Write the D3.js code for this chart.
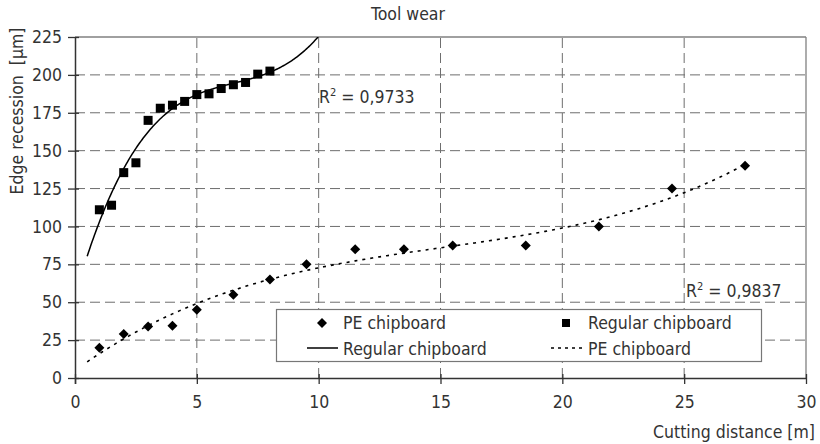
<!DOCTYPE html>
<html><head><meta charset="utf-8">
<script src="https://cdn.jsdelivr.net/npm/d3@7"></script>
<style>
body{margin:0;background:#fff;}
text{font-family:"DejaVu Sans Condensed","DejaVu Sans",sans-serif;fill:#333;}
</style></head>
<body><svg id="c" width="820" height="444"></svg>
<script>
const regularX = [1,1.5,2,2.5,3,3.5,4,4.5,5,5.5,6,6.5,7,7.5,8];
const regularY = [111,114,135.5,142,170,178,180,182.5,187,187.5,191,193.5,195,200.5,202.5];
const peX = [1,2,3,4,5,6.5,8,9.5,11.5,13.5,15.5,18.5,21.5,24.5,27.5];
const peY = [20,29,34,34.5,45,55,65,75,85,85,87.5,87.5,100,125,140];
const xTicks = [0,5,10,15,20,25,30];
const yTicks = [0,25,50,75,100,125,150,175,200,225];
const r2Labels = ["0,9733","0,9837"];

const FS = "17.5px";
const svg = d3.select("#c");
const x = d3.scaleLinear().domain([0,30]).range([75,806]);
const y = d3.scaleLinear().domain([0,225]).range([378,37]);

// cubic least squares fit (Excel-style polynomial trendline)
function polyfit(xs, ys, deg){
  const n = deg+1;
  const A = Array.from({length:n},()=>new Array(n+1).fill(0));
  for(let k=0;k<xs.length;k++){
    for(let i=0;i<n;i++){
      for(let j=0;j<n;j++) A[i][j]+=Math.pow(xs[k],i+j);
      A[i][n]+=ys[k]*Math.pow(xs[k],i);
    }
  }
  for(let i=0;i<n;i++){
    let p=i; for(let r=i+1;r<n;r++) if(Math.abs(A[r][i])>Math.abs(A[p][i])) p=r;
    [A[i],A[p]]=[A[p],A[i]];
    for(let r=0;r<n;r++){ if(r===i) continue; const f=A[r][i]/A[i][i]; for(let c=i;c<=n;c++) A[r][c]-=f*A[i][c]; }
  }
  return A.map((row,i)=>row[n]/row[i]);
}
const evalP=(c,t)=>c.reduce((s,a,i)=>s+a*Math.pow(t,i),0);

// grid
const g = svg.append("g");
g.selectAll(".hg").data(yTicks.filter(d=>d>0&&d<225)).join("line")
 .attr("x1",x(0)).attr("x2",x(30)).attr("y1",d=>y(d)).attr("y2",d=>y(d))
 .attr("stroke","#6e6e6e").attr("stroke-width",1).attr("stroke-dasharray","10,5");
g.selectAll(".vg").data(xTicks.filter(d=>d>0&&d<30)).join("line")
 .attr("y1",y(0)).attr("y2",y(225)).attr("x1",d=>x(d)).attr("x2",d=>x(d))
 .attr("stroke","#6e6e6e").attr("stroke-width",1).attr("stroke-dasharray","10,5");
// frame top/right
svg.append("line").attr("x1",x(0)).attr("x2",x(30)).attr("y1",y(225)).attr("y2",y(225)).attr("stroke","#808080").attr("stroke-width",1.3);
svg.append("line").attr("x1",x(30)).attr("x2",x(30)).attr("y1",y(225)).attr("y2",y(0)).attr("stroke","#808080").attr("stroke-width",1.3);

// clip
svg.append("clipPath").attr("id","clip").append("rect")
 .attr("x",x(0)).attr("y",y(225)).attr("width",x(30)-x(0)).attr("height",y(0)-y(225));

// trend lines
const cR = polyfit(regularX, regularY, 3);
const cP = polyfit(peX, peY, 3);
const line = d3.line().x(d=>x(d[0])).y(d=>y(d[1]));
const tR = d3.range(0.5, 11.01, 0.05).map(t=>[t,evalP(cR,t)]);
const tP = d3.range(0.5, 27.51, 0.1).map(t=>[t,evalP(cP,t)]);
svg.append("path").attr("clip-path","url(#clip)").attr("d",line(tR)).attr("fill","none").attr("stroke","#000").attr("stroke-width",1.5);
svg.append("path").attr("clip-path","url(#clip)").attr("d",line(tP)).attr("fill","none").attr("stroke","#000").attr("stroke-width",1.6).attr("stroke-dasharray","3,5");

// axes
const ya = svg.append("g").attr("transform",`translate(${x(0)},0)`)
 .call(d3.axisLeft(y).tickValues(yTicks).tickSizeInner(7).tickSizeOuter(0).tickPadding(6));
const xa = svg.append("g").attr("transform",`translate(0,${y(0)})`)
 .call(d3.axisBottom(x).tickValues(xTicks).tickSizeInner(6).tickSizeOuter(0).tickPadding(12));
[ya,xa].forEach(a=>{
  a.select(".domain").attr("stroke","#333").attr("stroke-width",1.5);
  a.selectAll(".tick line").attr("stroke","#333").attr("stroke-width",1.3);
  a.selectAll(".tick text").style("font-size",FS).attr("fill","#333").style("font-family",'"DejaVu Sans Condensed","DejaVu Sans",sans-serif');
});
ya.selectAll(".tick line").attr("x2",-7).attr("x1",4);
xa.selectAll(".tick line").attr("y1",-4).attr("y2",6);
ya.select(".domain").attr("d",`M0.5,${y(0)+6}V${y(225)}`);

// markers
svg.selectAll(".sq").data(regularX.map((d,i)=>[d,regularY[i]])).join("rect")
 .attr("x",d=>x(d[0])-4.5).attr("y",d=>y(d[1])-4.5).attr("width",9).attr("height",9).attr("fill","#000");
const diamond = d3.symbol().type(d3.symbolDiamond2).size(64);
svg.selectAll(".dm").data(peX.map((d,i)=>[d,peY[i]])).join("path")
 .attr("transform",d=>`translate(${x(d[0])},${y(d[1])})`).attr("d",diamond).attr("fill","#000");

// R² labels
function r2(tx,ty,val){
  const t=svg.append("text").attr("x",tx).attr("y",ty).style("font-size",FS);
  t.append("tspan").text("R");
  t.append("tspan").attr("dy",-7).style("font-size","11px").text("2");
  t.append("tspan").attr("dy",7).text(" = "+val);
}
r2(319,103,r2Labels[0]);
r2(686,297,r2Labels[1]);

// title and axis labels
svg.append("text").attr("x",408).attr("y",20).attr("text-anchor","middle").style("font-size",FS).text("Tool wear");
svg.append("text").attr("x",815).attr("y",438).attr("text-anchor","end").style("font-size",FS).text("Cutting distance [m]");
svg.append("text").attr("transform","translate(23,111) rotate(-90)").attr("text-anchor","middle").style("font-size",FS).text("Edge recession\u00a0 [µm]");

// legend
const lg = svg.append("g");
lg.append("rect").attr("x",276.5).attr("y",309.5).attr("width",485).attr("height",52).attr("fill","#fff").attr("stroke","#777").attr("stroke-width",1.2);
lg.append("path").attr("transform","translate(322,323)").attr("d",diamond).attr("fill","#000");
lg.append("text").attr("x",343).attr("y",329).style("font-size",FS).text("PE chipboard");
lg.append("line").attr("x1",307).attr("x2",338).attr("y1",348).attr("y2",348).attr("stroke","#000").attr("stroke-width",1.5);
lg.append("text").attr("x",343).attr("y",355).style("font-size",FS).text("Regular chipboard");
lg.append("rect").attr("x",562).attr("y",319).attr("width",8).attr("height",8).attr("fill","#000");
lg.append("text").attr("x",588).attr("y",329).style("font-size",FS).text("Regular chipboard");
lg.append("line").attr("x1",551).attr("x2",584).attr("y1",348).attr("y2",348).attr("stroke","#000").attr("stroke-width",1.6).attr("stroke-dasharray","3,4");
lg.append("text").attr("x",588).attr("y",355).style("font-size",FS).text("PE chipboard");
</script></body></html>
